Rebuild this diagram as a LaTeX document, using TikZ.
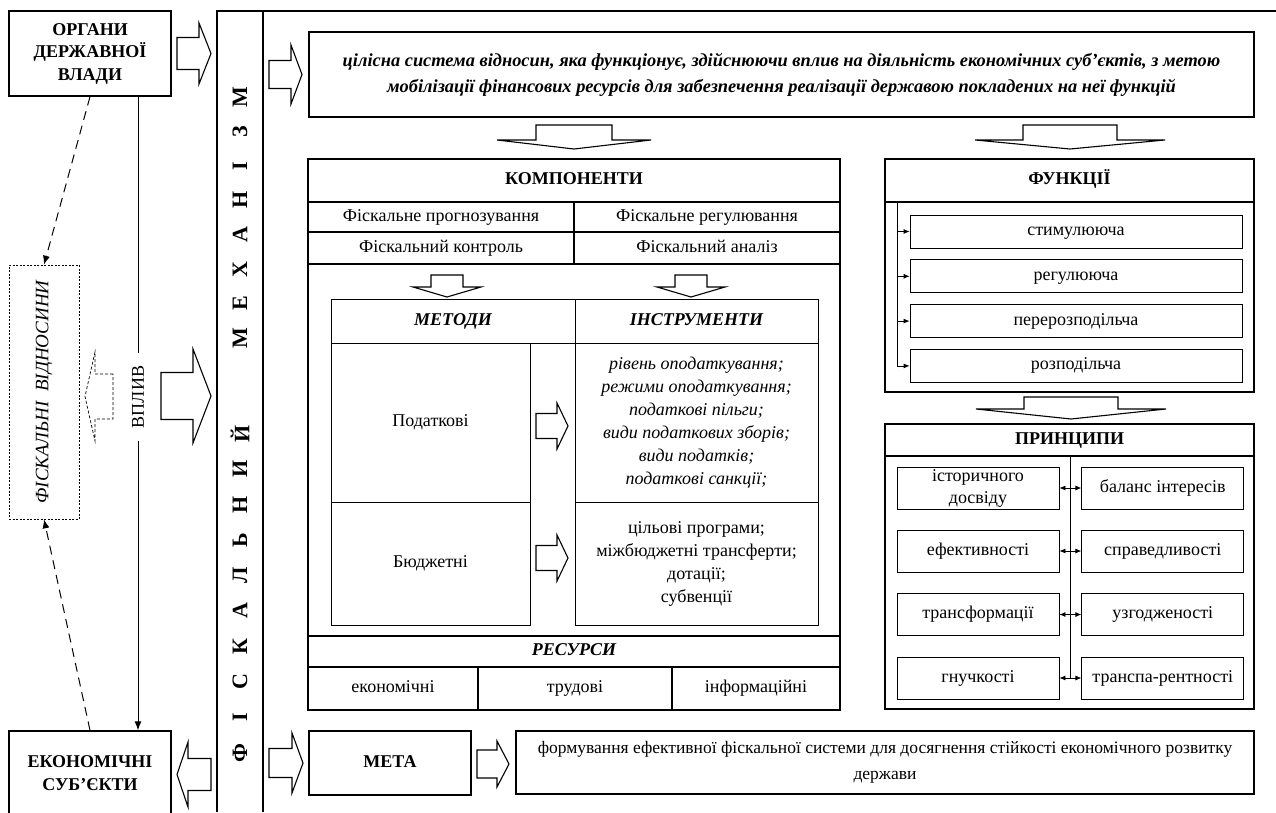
\documentclass[tikz,border=0pt]{standalone}
\usepackage{fontspec}
\setmainfont{Liberation Serif}
\usetikzlibrary{calc}
\usetikzlibrary{positioning}
\usetikzlibrary{arrows.meta}

% hollow block arrows: [style] tail, head base, tip, centre, half shaft, half head
\newcommand{\harrow}[7][]{%
  \draw[blockarr,#1] (#2,#5-#6) -- (#3,#5-#6) -- (#3,#5-#7) -- (#4,#5)
    -- (#3,#5+#7) -- (#3,#5+#6) -- (#2,#5+#6) -- cycle;}
\newcommand{\varrow}[7][]{%
  \draw[blockarr,#1] (#5-#6,#2) -- (#5-#6,#3) -- (#5-#7,#3) -- (#5,#4)
    -- (#5+#7,#3) -- (#5+#6,#3) -- (#5+#6,#2) -- cycle;}

\begin{document}
\begin{tikzpicture}[x=1pt,y=-1pt,font=\fontsize{18}{23}\selectfont,
      oneline/.style={text height=12.5pt,text depth=4.5pt},
      box/.style={draw=black,line width=1.4pt,align=center,inner sep=2pt},
      cell/.style={draw=black,line width=0.8pt,align=center,inner sep=2pt,outer sep=0pt},
      rowcell/.style={draw=black,line width=1.1pt,align=center,inner sep=1pt,oneline},
      fitem/.style={draw=black,line width=0.8pt,align=center,inner sep=1pt,oneline},
      head font/.style={font=\fontsize{18}{22.5}\selectfont\bfseries},
      head italic/.style={font=\fontsize{18}{22.5}\selectfont\bfseries\itshape},
      mech letter/.style={font=\fontsize{22}{22}\selectfont\bfseries,rotate=90,inner sep=0pt},
      blockarr/.style={draw=black,line width=1.1pt,fill=white,line join=miter},
      arr/.style={-{Latex[length=9pt,width=7pt]},line width=1pt},
      dash arr/.style={-{Latex[length=9pt,width=7pt]},line width=1pt,dash pattern=on 9pt off 6pt},
      small arr/.style={-{Latex[length=6pt,width=5pt]},line width=0.8pt},
      both arr/.style={{Latex[length=6pt,width=5pt]}-{Latex[length=6pt,width=5pt]},line width=0.8pt}
      ]

      \fill[white] (0,0) rectangle (1276,812);
      \useasboundingbox (0,0) rectangle (1276,812);

      % the mechanism column
      \draw[line width=1.3pt] (217,812) -- (217,11) -- (1276,11);
      \draw[line width=1.3pt] (263,11) -- (263,812);
      \foreach \c [count=\i from 0] in {Ф,І,С,К,А,Л,Ь,Н,И,Й}
        \node[mech letter] (fisk\i) at (240,753-35.5*\i) {\c};
      \foreach \c [count=\i from 0] in {М,Е,Х,А,Н,І,З,М}
        \node[mech letter] (mech\i) at (240,338-34.4*\i) {\c};

      % left side
      \node[box, head font, minimum width=162, minimum height=85] (organy) at (90,53.5)
        {ОРГАНИ\\ДЕРЖАВНОЇ\\ВЛАДИ};
      \node[box, head font, minimum width=162, minimum height=84] (subj) at (90,773)
        {ЕКОНОМІЧНІ\\СУБ’ЄКТИ};
      \node[draw=black, line width=0.6pt, dash pattern=on 2pt off 1.5pt,
        minimum width=70, minimum height=254] (rel) at (44,392) {};
      \node[rotate=90, font=\fontsize{19}{22}\selectfont\itshape] (reltext) at (rel)
        {ФІСКАЛЬНІ~~ВІДНОСИНИ};
      \node[rotate=90, fill=white, inner xsep=13pt, inner ysep=0pt] (vplyv) at (138,397) {ВПЛИВ};

      \draw[line width=1pt] (vplyv |- organy.south) -- (vplyv.east);
      \draw[arr] (vplyv.west) -- (vplyv |- subj.north);
      \draw[dash arr] (organy.south) -- (rel.north);
      \draw[dash arr] (subj.north) -- (rel.south);

      \harrow[line width=0.7pt, dash pattern=on 3pt off 2pt]{113}{95}{85}{396.5}{22.5}{44.5}
      \harrow{161}{193}{211}{396}{23.5}{47}
      \harrow{177}{199}{211}{53.5}{16}{30.5}
      \harrow{211}{188}{177}{774.5}{16}{32.5}
      \harrow{269}{291}{302}{74.5}{14}{29.5}
      \harrow{269}{292}{303}{763}{14.5}{30}

      % definition
      \node[box, font=\fontsize{18.4}{26}\selectfont\bfseries\itshape,
        minimum width=945, minimum height=85] (def) at (781.5,74.5)
        {цілісна система відносин, яка функціонує, здійснюючи вплив на діяльність економічних суб’єктів, з метою\\
         мобілізації фінансових ресурсів для забезпечення реалізації державою покладених на неї функцій};
      \varrow{125}{140}{149}{574}{38}{77}
      \varrow{125}{140}{149}{1070}{47}{95}

      % components
      \node[box, minimum width=532, minimum height=551] (comp) at (574,434.5) {};
      \node[box, head font, oneline, minimum width=532, minimum height=43] (comphead) at (574,180.5) {КОМПОНЕНТИ};
      \node[rowcell, minimum width=266, minimum height=30] (forecast) at (441,217) {Фіскальне прогнозування};
      \node[rowcell, minimum width=266, minimum height=30] (regul) at (707,217) {Фіскальне регулювання};
      \node[rowcell, minimum width=266, minimum height=32] (control) at (441,248) {Фіскальний контроль};
      \node[rowcell, minimum width=266, minimum height=32] (analysis) at (707,248) {Фіскальний аналіз};
      \draw[line width=1.4pt] (control.south west) -- (analysis.south east);

      \varrow{275}{287}{297}{447}{16}{34}
      \varrow{275}{287}{297}{691}{16}{34}

      \node[cell, head italic, oneline, minimum width=244, minimum height=44] (methods) at (453,321) {МЕТОДИ};
      \node[cell, head italic, oneline, minimum width=243, minimum height=44] (tools) at (696.5,321) {ІНСТРУМЕНТИ};
      \node[cell, oneline, minimum width=199, minimum height=159] (tax) at (430.5,422.5) {Податкові};
      \node[cell, oneline, minimum width=199, minimum height=123] (budget) at (430.5,563.5) {Бюджетні};
      \node[cell, font=\fontsize{18}{23}\selectfont\itshape, minimum width=243, minimum height=159]
        (taxtools) at (696.5,422.5)
        {рівень оподаткування;\\режими оподаткування;\\податкові пільги;\\види податкових зборів;\\види податків;\\податкові санкції;};
      \node[cell, minimum width=243, minimum height=123] (budtools) at (696.5,563.5)
        {цільові програми;\\міжбюджетні трансферти;\\дотації;\\субвенції};
      \harrow{536}{557}{568}{426}{12.5}{23}
      \harrow{536}{557}{568}{558}{12.5}{23}

      \node[box, head italic, oneline, minimum width=532, minimum height=31] (res) at (574,651.5) {РЕСУРСИ};
      \node[rowcell, minimum width=170, minimum height=43] (econ) at (393,688.5) {економічні};
      \node[rowcell, minimum width=194, minimum height=43] (labour) at (575,688.5) {трудові};
      \node[rowcell, minimum width=168, minimum height=43] (info) at (756,688.5) {інформаційні};
      \draw[line width=1.4pt] (comp.south west) rectangle (comp.north east);

      % functions
      \node[box, minimum width=369, minimum height=233] (func) at (1069.5,275.5) {};
      \node[box, head font, oneline, minimum width=369, minimum height=43] (funchead) at (1069.5,180.5) {ФУНКЦІЇ};
      \node[fitem, minimum width=332, minimum height=33] (f1) at (1076,231.5) {стимулююча};
      \node[fitem, minimum width=332, minimum height=33, below=11pt of f1] (f2) {регулююча};
      \node[fitem, minimum width=332, minimum height=33, below=11pt of f2] (f3) {перерозподільча};
      \node[fitem, minimum width=332, minimum height=33, below=11pt of f3] (f4) {розподільча};
      \coordinate (fbar) at (897,202);
      \draw[small arr] (fbar) |- (f4.west);
      \foreach \i in {1,2,3}
        \draw[small arr] (fbar |- f\i.west) -- (f\i.west);

      % principles
      \varrow{397}{409}{419}{1071}{47}{95}
      \node[box, minimum width=369, minimum height=285] (princ) at (1069.5,566.5) {};
      \node[box, head font, oneline, minimum width=369, minimum height=32] (princhead) at (1069.5,440) {ПРИНЦИПИ};
      \node[draw=black, line width=0.8pt, align=center, inner sep=0pt, minimum width=162, minimum height=42,
        font=\fontsize{18}{22}\selectfont] (p1l) at (978,488) {історичного\\досвіду};
      \node[fitem, minimum width=162, minimum height=42] (p2l) at (978,551) {ефективності};
      \node[fitem, minimum width=162, minimum height=42] (p3l) at (978,614.5) {трансформації};
      \node[fitem, minimum width=162, minimum height=42] (p4l) at (978,678) {гнучкості};
      \node[fitem, minimum width=162, minimum height=42, right=22pt of p1l] (p1r) {баланс інтересів};
      \node[fitem, minimum width=162, minimum height=42, right=22pt of p2l] (p2r) {справедливості};
      \node[fitem, minimum width=162, minimum height=42, right=22pt of p3l] (p3r) {узгодженості};
      \node[fitem, minimum width=162, minimum height=42, right=22pt of p4l] (p4r) {транспа-рентності};
      \coordinate (pbar) at ($(p1l.east)!0.5!(p1r.west)$);
      \draw[line width=0.8pt] (pbar |- princhead.south) -- (pbar |- p4l.east);
      \foreach \i in {1,2,3,4}
        \draw[both arr] (p\i l.east) -- (p\i r.west);

      % goal
      \node[box, head font, oneline, minimum width=162, minimum height=64] (goal) at (390,763) {МЕТА};
      \harrow{477}{497}{509}{764}{14}{23}
      \node[box, font=\fontsize{17.5}{26}\selectfont, minimum width=738, minimum height=63]
        (goaltext) at (885,762.5)
        {формування ефективної фіскальної системи для досягнення стійкості економічного розвитку\\держави};

    \end{tikzpicture}
\end{document}
